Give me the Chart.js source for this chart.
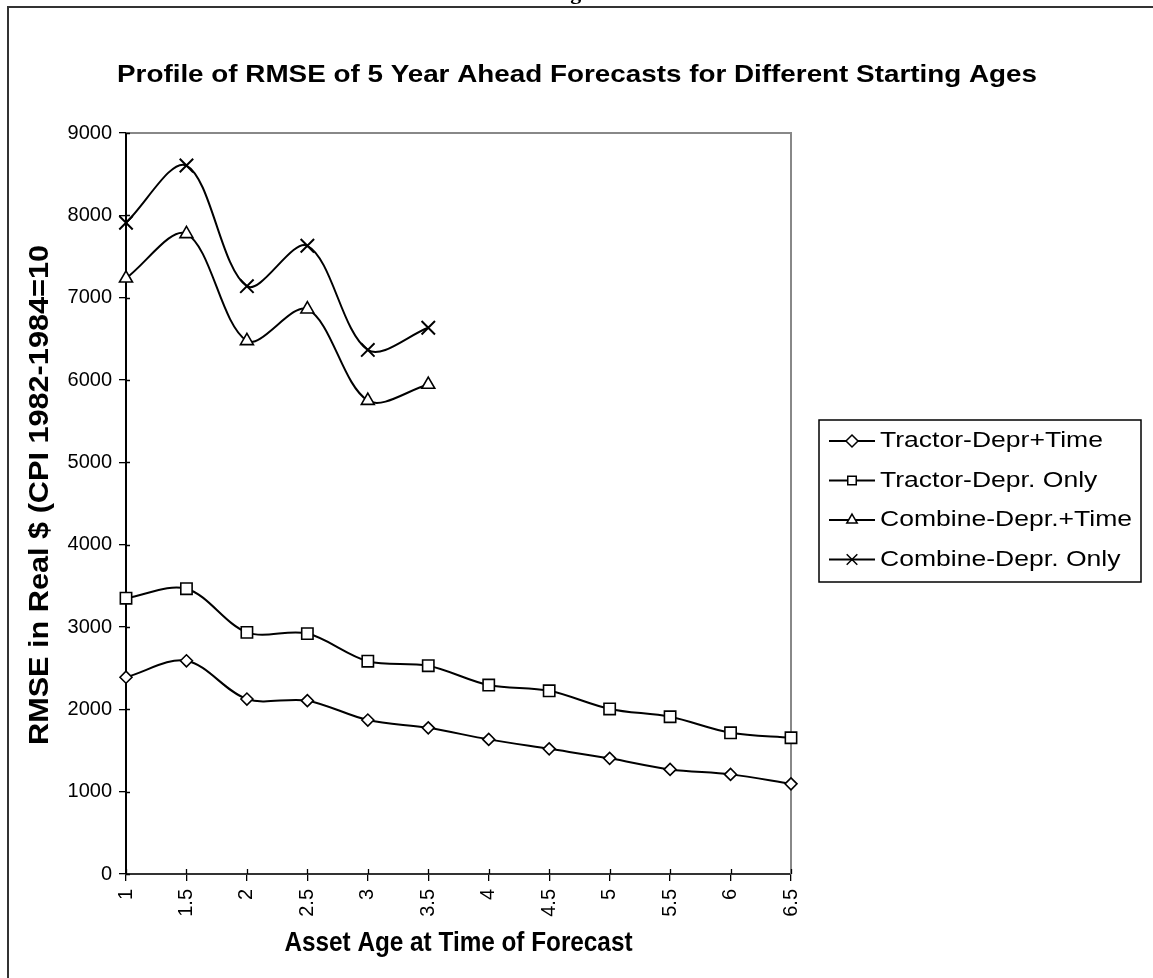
<!DOCTYPE html>
<html>
<head>
<meta charset="utf-8">
<script src="https://cdn.jsdelivr.net/npm/chart.js@4"></script>
<style>
  html, body { margin: 0; padding: 0; background: #fff; }
  #wrap { width: 1153px; height: 978px; position: relative; }
</style>
</head>
<body>
<div id="wrap"><canvas id="rmse"></canvas></div>
<script>
// asset age at time of forecast
var ages = ['1', '1.5', '2', '2.5', '3', '3.5', '4', '4.5', '5', '5.5', '6', '6.5'];

// RMSE in real $
var tractorDeprTime = [2390, 2590, 2125, 2105, 1870, 1775, 1635, 1520, 1405, 1270, 1210, 1095];
var tractorDeprOnly = [3350, 3465, 2935, 2920, 2585, 2530, 2295, 2225, 2005, 1910, 1715, 1655];
var combineDeprTime = [7235, 7775, 6475, 6860, 5750, 5945, null, null, null, null, null, null];
var combineDeprOnly = [7910, 8605, 7140, 7630, 6365, 6635, null, null, null, null, null, null];

var seriesNames = ['Tractor-Depr+Time', 'Tractor-Depr. Only', 'Combine-Depr.+Time', 'Combine-Depr. Only'];
var yTicks = [0, 1000, 2000, 3000, 4000, 5000, 6000, 7000, 8000, 9000];

var chartTitle = 'Profile of RMSE of 5 Year Ahead Forecasts for Different Starting Ages';
var xTitle = 'Asset Age at Time of Forecast';
var yTitle = 'RMSE in Real $ (CPI 1982-1984=100)';

var SANS = '"Liberation Sans", Arial, sans-serif';

function series(label, data, style, radius) {
  return {
    label: label,
    data: data,
    borderColor: '#000',
    borderWidth: 2,
    tension: 0.33,
    pointStyle: style,
    pointRadius: radius,
    pointHoverRadius: radius,
    pointBackgroundColor: style === 'crossRot' ? '#000' : '#fff',
    pointBorderColor: '#000',
    pointBorderWidth: style === 'crossRot' ? 2 : 1.6,
    spanGaps: false
  };
}

// draw text squeezed/stretched to a given width
function fitText(ctx, txt, x, y, width, font, align) {
  ctx.save();
  ctx.font = font;
  var s = width / ctx.measureText(txt).width;
  ctx.translate(x, y);
  ctx.scale(s, 1);
  ctx.textAlign = align || 'center';
  ctx.textBaseline = 'middle';
  ctx.fillStyle = '#000';
  ctx.fillText(txt, 0, 0);
  ctx.restore();
}

function marker(ctx, style, x, y, r) {
  ctx.beginPath();
  if (style === 'rectRot') {
    ctx.moveTo(x, y - r); ctx.lineTo(x + r, y); ctx.lineTo(x, y + r); ctx.lineTo(x - r, y); ctx.closePath();
  } else if (style === 'rect') {
    var s = r * Math.SQRT1_2;
    ctx.rect(x - s, y - s, 2 * s, 2 * s);
  } else if (style === 'triangle') {
    ctx.moveTo(x, y - r); ctx.lineTo(x + r * 0.866, y + r * 0.5); ctx.lineTo(x - r * 0.866, y + r * 0.5); ctx.closePath();
  } else {
    var o = r * Math.SQRT1_2;
    ctx.moveTo(x - o, y - o); ctx.lineTo(x + o, y + o);
    ctx.moveTo(x + o, y - o); ctx.lineTo(x - o, y + o);
  }
  if (style !== 'crossRot') { ctx.fillStyle = '#fff'; ctx.fill(); }
  ctx.stroke();
}

var decor = {
  id: 'decor',
  beforeDatasetsDraw: function (chart) {
    var ctx = chart.ctx, a = chart.chartArea;
    ctx.save();
    // grey plot frame (top, right)
    ctx.strokeStyle = '#888';
    ctx.lineWidth = 2;
    ctx.beginPath();
    ctx.moveTo(a.left, a.top); ctx.lineTo(a.right, a.top); ctx.lineTo(a.right, a.bottom);
    ctx.stroke();
    // inner halves of the cross tick marks
    ctx.strokeStyle = '#000';
    ctx.lineWidth = 1.3;
    ctx.beginPath();
    chart.scales.y.ticks.forEach(function (t) {
      var yy = Math.round(chart.scales.y.getPixelForValue(t.value)) + 0.5;
      ctx.moveTo(a.left, yy); ctx.lineTo(a.left + 4, yy);
    });
    chart.scales.x.ticks.forEach(function (t, i) {
      var xx = Math.round(chart.scales.x.getPixelForTick(i)) + 0.5;
      ctx.moveTo(xx, a.bottom); ctx.lineTo(xx, a.bottom - 5);
    });
    ctx.stroke();
    ctx.restore();
  },
  afterDraw: function (chart) {
    var ctx = chart.ctx, a = chart.chartArea;
    ctx.save();
    // outer page frame
    ctx.strokeStyle = '#333';
    ctx.lineWidth = 2;
    ctx.beginPath();
    ctx.moveTo(8, 978); ctx.lineTo(8, 7); ctx.lineTo(1153, 7);
    ctx.stroke();

    // caption cut off above the frame
    ctx.font = 'bold 22px "Liberation Serif", "Times New Roman", serif';
    ctx.textAlign = 'center';
    ctx.textBaseline = 'alphabetic';
    ctx.fillStyle = '#000';
    ctx.fillText('Figure 6', 590, -1);

    fitText(ctx, chartTitle, 577, 75, 920, 'bold 24px ' + SANS);
    fitText(ctx, xTitle, (a.left + a.right) / 2, 944, 348, 'bold 27px ' + SANS);

    // y title, clipped at the top like the source
    ctx.save();
    ctx.beginPath();
    ctx.rect(0, 244, 70, 734);
    ctx.clip();
    ctx.translate(40, 745);
    ctx.rotate(-Math.PI / 2);
    ctx.font = 'bold 28px ' + SANS;
    var part = ctx.measureText('RMSE in Real $ (CPI 1982-1984=10').width;
    ctx.scale(500 / part, 1);
    ctx.textAlign = 'left';
    ctx.textBaseline = 'middle';
    ctx.fillStyle = '#000';
    ctx.fillText(yTitle, 0, 0);
    ctx.restore();

    // legend box
    var lx = 819, ly = 420, lw = 322, lh = 162;
    ctx.fillStyle = '#fff';
    ctx.fillRect(lx, ly, lw, lh);
    ctx.strokeStyle = '#000';
    ctx.lineWidth = 1.5;
    ctx.strokeRect(lx, ly, lw, lh);
    var lfont = '22px ' + SANS;
    ctx.font = lfont;
    var ls = 252 / ctx.measureText(seriesNames[2]).width;
    chart.data.datasets.forEach(function (ds, i) {
      var cy = ly + 21 + i * 39.5;
      ctx.strokeStyle = '#000';
      ctx.lineWidth = 2;
      ctx.beginPath();
      ctx.moveTo(829, cy); ctx.lineTo(875, cy);
      ctx.stroke();
      ctx.lineWidth = 1.5;
      marker(ctx, ds.pointStyle, 852, cy, ds.pointStyle === 'crossRot' ? 7.5 : 6);
      ctx.font = lfont;
      fitText(ctx, ds.label, 880, cy, ctx.measureText(ds.label).width * ls, lfont, 'left');
    });
    ctx.restore();
  }
};

var ctx = document.getElementById('rmse');
var rmse = new Chart(ctx, {
  type: 'line',
  data: {
    labels: ages,
    datasets: [
      series(seriesNames[0], tractorDeprTime, 'rectRot', 6),
      series(seriesNames[1], tractorDeprOnly, 'rect', 8),
      series(seriesNames[2], combineDeprTime, 'triangle', 7.5),
      series(seriesNames[3], combineDeprOnly, 'crossRot', 9.5)
    ]
  },
  options: {
    responsive: true,
    maintainAspectRatio: false,
    animation: false,
    layout: { padding: { top: 133, right: 362, left: 0, bottom: 0 } },
    plugins: {
      legend: { display: false },
      title: { display: false },
      tooltip: { enabled: false }
    },
    scales: {
      x: {
        type: 'category',
        offset: false,
        grid: { display: true, drawOnChartArea: false, drawTicks: true, tickLength: 7, color: '#000', lineWidth: 1.3 },
        border: { display: true, color: '#333', width: 2 },
        ticks: {
          autoSkip: false, minRotation: 90, maxRotation: 90, padding: 8,
          color: '#000', font: { family: SANS, size: 20 }
        },
        afterFit: function (s) { s.height = 104; }
      },
      y: {
        min: 0, max: 9000,
        afterBuildTicks: function (s) { s.ticks = yTicks.map(function (v) { return { value: v }; }); },
        grid: { display: true, drawOnChartArea: false, drawTicks: true, tickLength: 7, color: '#000', lineWidth: 1.3 },
        border: { display: true, color: '#000', width: 2 },
        ticks: {
          padding: 7, color: '#000',
          font: { family: SANS, size: 20 },
          callback: function (v) { return String(v); }
        },
        afterFit: function (s) { s.width = 126; }
      }
    }
  },
  plugins: [decor]
});
</script>
</body>
</html>
